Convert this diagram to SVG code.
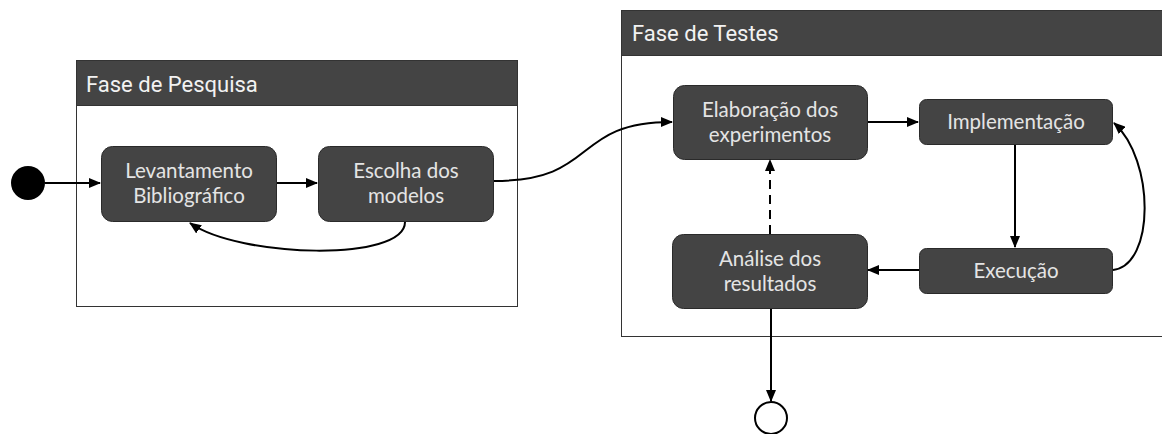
<svg xmlns="http://www.w3.org/2000/svg" width="1162" height="434" viewBox="0 0 1162 434">
<style>
.frame{fill:#ffffff;stroke:#333333;stroke-width:1}
.hdr{fill:#444444;stroke:#333333;stroke-width:1}
.hdrtxt{font-family:Roboto,"Liberation Sans",sans-serif;font-size:22px;fill:#f2f2f2}
.node{fill:#444444;stroke:#2a2a2a;stroke-width:1}
.ntxt{font-family:Lato,"Open Sans",sans-serif;font-size:20.5px;fill:#e4e4e4;text-anchor:middle}
.edge{fill:none;stroke:#000000;stroke-width:2}
</style>
<defs>
<marker id="arr" markerWidth="12" markerHeight="10" refX="11" refY="5" orient="auto" markerUnits="userSpaceOnUse">
<path d="M0,0 L12,5 L0,10 Z" fill="#000000"/>
</marker>
</defs>
<g id="frame-pesquisa">
<rect class="frame" x="76.5" y="60.5" width="441" height="246"/>
<rect class="hdr" x="76.5" y="60.5" width="441" height="45"/>
<text class="hdrtxt" x="86" y="92">Fase de Pesquisa</text>
</g>
<g id="frame-testes">
<rect class="frame" x="621.5" y="10.5" width="541" height="326"/>
<rect class="hdr" x="621.5" y="10.5" width="541" height="45"/>
<text class="hdrtxt" x="632" y="41">Fase de Testes</text>
</g>
<g id="start"><circle cx="28" cy="183" r="17" fill="#000000"/></g>
<g id="end"><circle cx="771" cy="418" r="16" fill="#ffffff" stroke="#000000" stroke-width="2"/></g>
<g id="levantamento">
<rect class="node" x="101.5" y="146.5" width="175" height="75" rx="11"/>
<text class="ntxt" x="189" y="178">Levantamento</text>
<text class="ntxt" x="189" y="203">Bibliográfico</text>
</g>
<g id="escolha">
<rect class="node" x="318.5" y="146.5" width="175" height="75" rx="11"/>
<text class="ntxt" x="406" y="178">Escolha dos</text>
<text class="ntxt" x="406" y="203">modelos</text>
</g>
<g id="elaboracao">
<rect class="node" x="673.5" y="85.5" width="194" height="74" rx="11"/>
<text class="ntxt" x="770" y="117">Elaboração dos</text>
<text class="ntxt" x="770" y="142">experimentos</text>
</g>
<g id="implementacao">
<rect class="node" x="919.5" y="99.5" width="193" height="45" rx="7"/>
<text class="ntxt" x="1016" y="129">Implementação</text>
</g>
<g id="execucao">
<rect class="node" x="919.5" y="248.5" width="193" height="45" rx="7"/>
<text class="ntxt" x="1016" y="278">Execução</text>
</g>
<g id="analise">
<rect class="node" x="672.5" y="234.5" width="195" height="74" rx="11"/>
<text class="ntxt" x="770" y="266">Análise dos</text>
<text class="ntxt" x="770" y="291">resultados</text>
</g>
<g id="connectors">
<path class="edge" d="M45,183 L100,183" marker-end="url(#arr)"/>
<path class="edge" d="M277,183 L317,183" marker-end="url(#arr)"/>
<path class="edge" d="M405,222 C405,262 240,258 190,223" marker-end="url(#arr)"/>
<path class="edge" d="M494,181 C600,181 570,122 672,122" marker-end="url(#arr)"/>
<path class="edge" d="M868,122 L918,122" marker-end="url(#arr)"/>
<path class="edge" d="M1015,145 L1015,247" marker-end="url(#arr)"/>
<path class="edge" d="M1113,270 C1155,265 1155,160 1114,123" marker-end="url(#arr)"/>
<path class="edge" d="M919,270 L868,270" marker-end="url(#arr)"/>
<path class="edge" d="M770,234 L770,160" stroke-dasharray="9,6" marker-end="url(#arr)"/>
<path class="edge" d="M771,309 L771,401" marker-end="url(#arr)"/>
</g>
</svg>
